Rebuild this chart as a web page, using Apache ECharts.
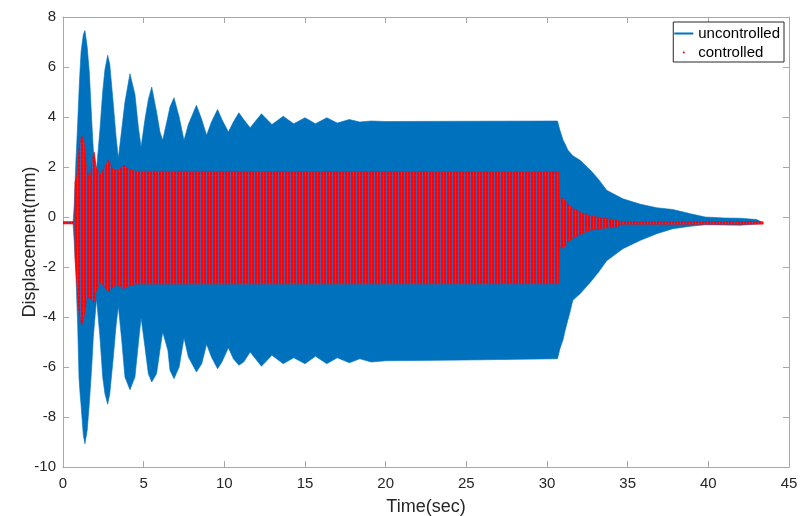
<!DOCTYPE html>
<html>
<head>
<meta charset="utf-8">
<script src="https://cdn.jsdelivr.net/npm/echarts@6/dist/echarts.min.js"></script>
<style>html,body{margin:0;padding:0;background:#fff}#c{width:800px;height:516px}</style>
</head>
<body>
<div id="c"></div>
<script>
// Axis ticks
const xTicks = [0, 5, 10, 15, 20, 25, 30, 35, 40, 45];
const yTicks = [-10, -8, -6, -4, -2, 0, 2, 4, 6, 8];

// Uncontrolled response envelope
const uTime = [0, 0.62, 0.7, 0.79, 0.91, 0.99, 1.05, 1.12, 1.26, 1.36, 1.5, 1.63, 1.78, 1.88, 2.08, 2.29, 2.46, 2.6, 2.77, 2.9, 3.12, 3.29, 3.43, 3.64, 3.84, 4.15, 4.46, 4.67, 4.84, 5.08, 5.29, 5.5, 5.8, 6.01, 6.18, 6.5, 6.63, 6.88, 7.2, 7.5, 7.77, 8.27, 8.6, 8.9, 9.2, 9.58, 9.85, 10.25, 10.56, 10.9, 11.2, 11.6, 12.3, 12.95, 13.65, 14.3, 15.0, 15.65, 16.35, 17.0, 17.75, 18.4, 19.1, 20, 25, 30.65, 30.8, 31.0, 31.1, 31.3, 31.4, 31.6, 32.05, 32.7, 33.2, 33.7, 34.7, 35.8, 36.8, 37.8, 38.9, 39.8, 41, 42, 43, 43.4];
const uUpper = [-0.24, -0.24, 0.5, 2.07, 3.75, 5.0, 5.8, 6.6, 7.3, 7.46, 6.8, 5.8, 3.87, 2.67, 1.9, 3.5, 5.0, 5.9, 6.47, 6.1, 4.5, 3.2, 2.35, 3.5, 4.6, 5.73, 4.9, 3.6, 2.8, 3.9, 4.7, 5.2, 4.2, 3.4, 3.07, 4.0, 4.4, 4.77, 4.0, 3.07, 3.7, 4.47, 3.9, 3.27, 3.8, 4.3, 3.9, 3.4, 3.8, 4.17, 3.9, 3.57, 4.13, 3.7, 4.03, 3.73, 3.97, 3.73, 3.97, 3.76, 3.9, 3.8, 3.84, 3.82, 3.83, 3.84, 3.47, 3.07, 2.95, 2.67, 2.6, 2.45, 2.27, 1.87, 1.5, 1.07, 0.73, 0.51, 0.37, 0.3, 0.13, 0.0, -0.04, -0.05, -0.1, -0.23];
const uLower = [-0.24, -0.24, -1.0, -2.13, -4.33, -6.4, -7.0, -7.53, -8.73, -9.07, -8.53, -7.47, -6.0, -4.8, -3.27, -4.8, -6.4, -7.07, -7.49, -7.07, -5.6, -4.33, -3.57, -4.93, -6.4, -6.91, -6.4, -5.07, -4.03, -5.2, -6.27, -6.6, -6.27, -5.33, -4.6, -5.33, -6.13, -6.47, -6.0, -4.83, -5.6, -6.2, -5.87, -5.09, -5.6, -6.07, -5.8, -5.23, -5.67, -5.93, -5.8, -5.4, -5.97, -5.53, -5.87, -5.63, -5.87, -5.57, -5.87, -5.63, -5.83, -5.67, -5.8, -5.75, -5.72, -5.67, -5.27, -4.9, -4.6, -4.1, -3.87, -3.33, -3.07, -2.6, -2.2, -1.75, -1.27, -0.93, -0.67, -0.47, -0.37, -0.31, -0.32, -0.33, -0.28, -0.25];

// Controlled response envelope
const cTime = [0, 0.73, 0.74, 0.85, 1.0, 1.16, 1.3, 1.45, 1.65, 1.85, 1.94, 2.05, 2.3, 2.6, 2.81, 3.1, 3.4, 3.74, 4.1, 4.5, 30.72, 30.76, 31.0, 31.3, 31.6, 32.2, 32.7, 33.5, 34.3, 34.6, 43.4];
const cUpper = [-0.18, -0.18, 1.4, 1.6, 2.8, 3.27, 3.0, 2.0, 1.5, 2.4, 2.6, 2.0, 1.7, 2.0, 2.27, 1.9, 1.85, 2.07, 1.9, 1.83, 1.8, 0.7, 0.75, 0.5, 0.35, 0.15, 0.05, -0.05, -0.12, -0.19, -0.19];
const cLower = [-0.28, -0.28, -1.6, -2.6, -3.9, -4.33, -4.0, -3.3, -3.2, -3.4, -3.4, -3.0, -2.6, -2.8, -3.0, -2.8, -2.7, -2.87, -2.75, -2.68, -2.67, -1.2, -1.25, -1.0, -0.85, -0.65, -0.53, -0.45, -0.4, -0.29, -0.29];

const BLUE = '#0072BD';
const RED = '#FF0000';
const MESH = '#4a5fb4';
const FONT = 'Liberation Sans, Arial, Helvetica, sans-serif';
const W = 800, H = 516;

// fill style: fine vertical red streaks with blue showing between them
function streakFill() {
  const stops = [];
  const period = 3, redPart = 2;
  for (let x = 0; x < W; x += period) {
    stops.push({offset: x / W, color: RED});
    stops.push({offset: (x + redPart) / W, color: RED});
    stops.push({offset: (x + redPart) / W, color: MESH});
    stops.push({offset: Math.min(1, (x + period) / W), color: MESH});
  }
  return new echarts.graphic.LinearGradient(0, 0, W, 0, stops, true);
}
function dashFill() {
  const stops = [];
  const period = 4;
  for (let y = 0; y < H; y += period) {
    stops.push({offset: y / H, color: 'rgba(74,95,180,0)'});
    stops.push({offset: (y + 3) / H, color: 'rgba(74,95,180,0)'});
    stops.push({offset: (y + 3) / H, color: 'rgba(74,95,180,0.35)'});
    stops.push({offset: Math.min(1, (y + period) / H), color: 'rgba(74,95,180,0.35)'});
  }
  return new echarts.graphic.LinearGradient(0, 0, 0, H, stops, true);
}
const STREAK = streakFill();
const DASH = dashFill();

// envelope band drawn as one polygon through the axis scales
function bandPoints(T, U, L, api) {
  const pts = [];
  for (let i = 0; i < T.length; i++) pts.push(api.coord([T[i], U[i]]));
  for (let i = T.length - 1; i >= 0; i--) pts.push(api.coord([T[i], L[i]]));
  return pts;
}
function blueRender(params, api) {
  if (params.dataIndex !== 0) return null;
  return {type: 'polygon', shape: {points: bandPoints(uTime, uUpper, uLower, api)},
          style: {fill: BLUE, stroke: BLUE, lineWidth: 0.6}};
}
function redRender(params, api) {
  if (params.dataIndex !== 0) return null;
  const pts = bandPoints(cTime, cUpper, cLower, api);
  return {type: 'group', children: [
    {type: 'polygon', shape: {points: pts}, style: {fill: STREAK, stroke: RED, lineWidth: 0.5}},
    {type: 'polygon', shape: {points: pts}, style: {fill: DASH, stroke: null}}
  ]};
}

const chart = echarts.init(document.getElementById('c'), null, {renderer: 'canvas'});

const xMin = xTicks[0], xMax = xTicks[xTicks.length - 1], xInt = xTicks[1] - xTicks[0];
const yMin = yTicks[0], yMax = yTicks[yTicks.length - 1], yInt = yTicks[1] - yTicks[0];

const axisLine = {show: true, onZero: false, lineStyle: {color: '#a8a8a8', width: 1}};
const tick = {show: true, inside: true, length: 6, lineStyle: {color: '#a8a8a8'}};
const lbl = {color: '#262626', fontSize: 15, fontFamily: FONT};

const option = {
  animation: false,
  backgroundColor: '#fff',
  grid: {left: 63, right: 11, top: 17, bottom: 49, containLabel: false, outerBoundsMode: 'none'},
  legend: {
    data: [
      {name: 'uncontrolled', icon: 'rect', itemStyle: {color: BLUE}},
      {name: 'controlled', icon: 'circle', itemStyle: {color: RED}}
    ],
    orient: 'vertical',
    right: 16, top: 22,
    itemWidth: 19, itemHeight: 2, itemGap: 4,
    padding: [4, 4, 2, 1],
    borderColor: '#262626', borderWidth: 1,
    backgroundColor: '#fff',
    textStyle: {fontSize: 15, fontFamily: FONT, color: '#000', lineHeight: 15},
    selectedMode: false
  },
  xAxis: [
    {type: 'value', min: xMin, max: xMax, interval: xInt, position: 'bottom',
     axisLine: axisLine, axisTick: tick, splitLine: {show: false},
     axisLabel: Object.assign({margin: 9}, lbl),
     name: 'Time(sec)', nameLocation: 'middle', nameGap: 31, nameMoveOverlap: false,
     nameTextStyle: {fontSize: 18, fontFamily: FONT, color: '#262626'}},
    {type: 'value', min: xMin, max: xMax, interval: xInt, position: 'top',
     axisLine: axisLine, axisTick: tick, splitLine: {show: false}, axisLabel: {show: false}}
  ],
  yAxis: [
    {type: 'value', min: yMin, max: yMax, interval: yInt, position: 'left',
     axisLine: axisLine, axisTick: tick, splitLine: {show: false},
     axisLabel: Object.assign({margin: 7}, lbl),
     name: 'Displacement(mm)', nameLocation: 'middle', nameGap: 24, nameRotate: 90, nameMoveOverlap: false,
     nameTextStyle: {fontSize: 18, fontFamily: FONT, color: '#262626'}},
    {type: 'value', min: yMin, max: yMax, interval: yInt, position: 'right',
     axisLine: axisLine, axisTick: tick, splitLine: {show: false}, axisLabel: {show: false}}
  ],
  series: [
    {name: 'uncontrolled', type: 'custom', silent: true, clip: true,
     renderItem: blueRender,
     data: uTime.map((t, i) => [t, uUpper[i], uLower[i]]),
     encode: {x: 0, y: [1, 2]}, z: 2},
    {name: 'controlled', type: 'custom', silent: true, clip: true,
     renderItem: redRender,
     data: cTime.map((t, i) => [t, cUpper[i], cLower[i]]),
     encode: {x: 0, y: [1, 2]}, z: 3}
  ]
};
chart.setOption(option);
</script>
</body>
</html>
